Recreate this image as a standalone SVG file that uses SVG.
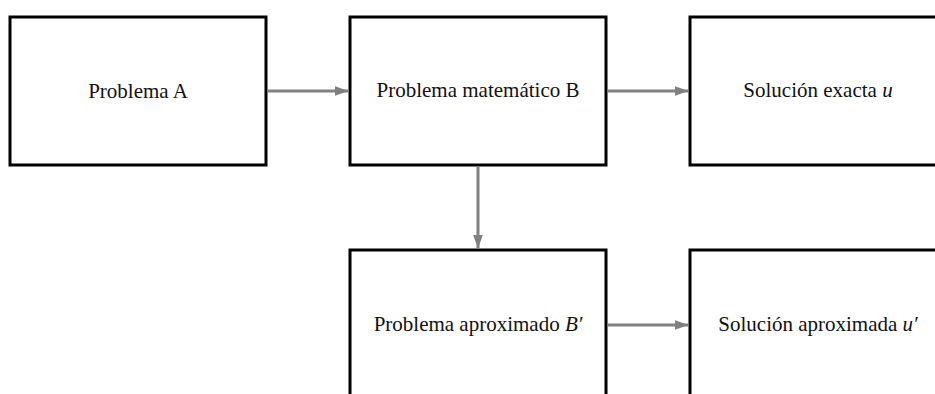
<svg xmlns="http://www.w3.org/2000/svg" width="935" height="394" viewBox="0 0 935 394">
  <style>
    .box { fill: #ffffff; stroke: #000000; stroke-width: 3; }
    .lbl { font-family: "Liberation Serif", "Times New Roman", serif; font-size: 21px; fill: #111111; text-anchor: middle; }
    .it { font-style: italic; }
    .conn { stroke: #808080; stroke-width: 3; fill: none; marker-end: url(#arr); }
  </style>
  <defs>
    <marker id="arr" markerUnits="userSpaceOnUse" markerWidth="14" markerHeight="10" refX="14" refY="5" orient="auto">
      <path d="M0,0 L14,5 L0,10 z" fill="#808080"/>
    </marker>
  </defs>
  <rect width="935" height="394" fill="#ffffff"/>
  <g id="nodeA">
    <rect class="box" x="10" y="17" width="256" height="148"/>
    <text class="lbl" x="138" y="98">Problema A</text>
  </g>
  <g id="nodeB">
    <rect class="box" x="350" y="17" width="256" height="148"/>
    <text class="lbl" x="478" y="97">Problema matemático B</text>
  </g>
  <g id="nodeU">
    <rect class="box" x="690" y="17" width="256" height="148"/>
    <text class="lbl" x="818" y="97">Solución exacta <tspan class="it">u</tspan></text>
  </g>
  <g id="nodeBp">
    <rect class="box" x="350" y="250" width="256" height="148"/>
    <text class="lbl" x="478" y="331">Problema aproximado <tspan class="it">B′</tspan></text>
  </g>
  <g id="nodeUp">
    <rect class="box" x="690" y="250" width="256" height="148"/>
    <text class="lbl" x="818" y="331">Solución aproximada <tspan class="it">u′</tspan></text>
  </g>
  <g id="connectors">
    <line class="conn" x1="268" y1="91" x2="348.5" y2="91"/>
    <line class="conn" x1="608" y1="91" x2="688.5" y2="91"/>
    <line class="conn" x1="478" y1="166.5" x2="478" y2="248.5"/>
    <line class="conn" x1="608" y1="325" x2="688.5" y2="325"/>
  </g>
</svg>
